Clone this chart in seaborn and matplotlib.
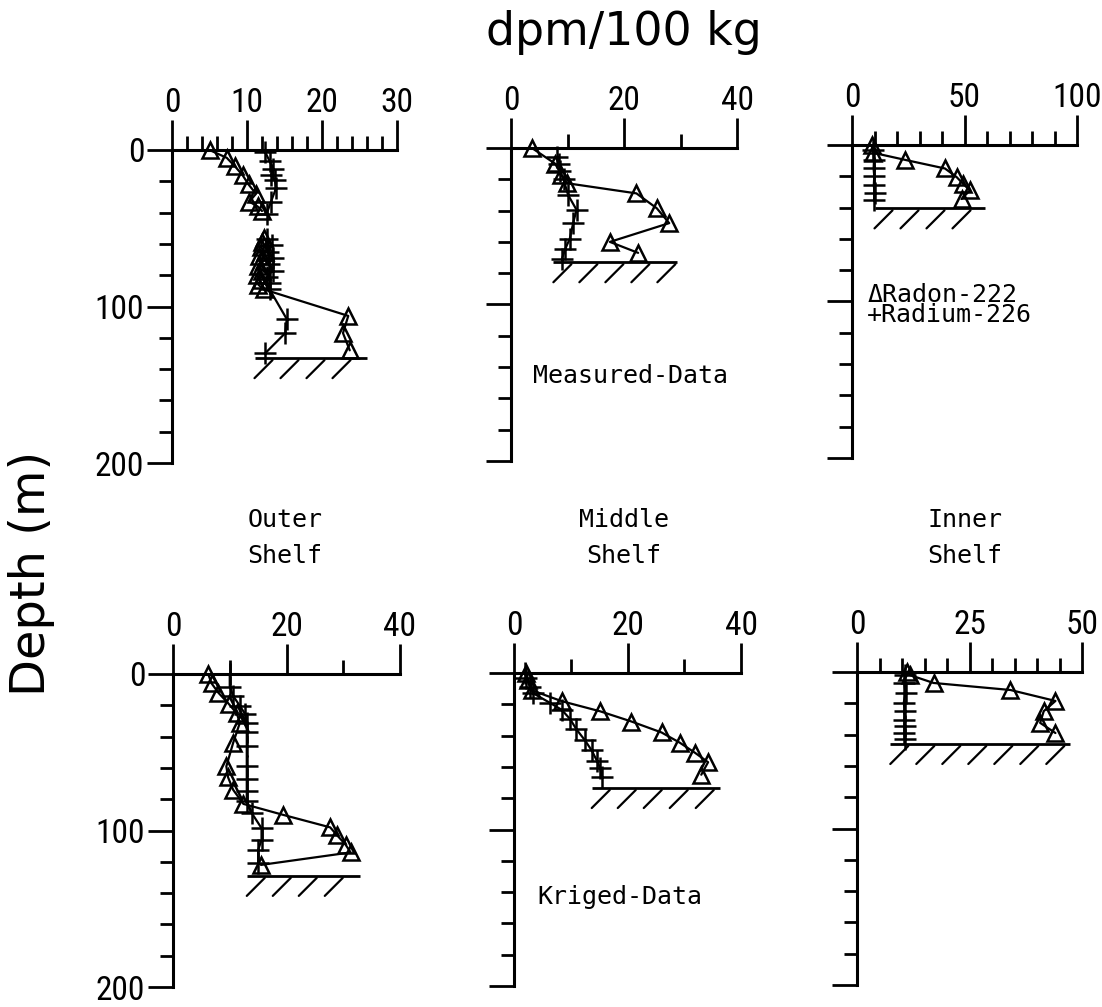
import matplotlib
matplotlib.use("Agg")
import matplotlib.pyplot as plt
import seaborn as sns
import pandas as pd
from matplotlib import font_manager
from matplotlib.font_manager import FontProperties
from matplotlib.ticker import MultipleLocator

# ---- measured data (top row) ----
# outer shelf: two profile pieces (seg 0 / seg 1), gap between ~40 and ~55 m
om_rn_x = [5.0, 7.3, 8.4, 9.4, 10.2, 11.2, 10.3, 11.4, 12.0,
           12.3, 12.0, 11.8, 12.4, 11.6, 12.2, 11.5, 12.0, 11.3, 11.8, 11.5, 12.2, 23.5, 22.8, 23.7]
om_rn_d = [0, 5, 10.5, 16, 22, 28, 33, 36, 39,
           56, 59, 62, 65, 68, 71, 74, 77, 80, 83, 86, 89, 106, 117, 128]
om_rn_seg = [0] * 9 + [1] * 15
om_ra_x = [12.4, 13.0, 13.5, 13.2, 13.7, 13.9, 13.2, 12.6,
           12.6, 13.3, 12.8, 13.5, 12.9, 13.4, 12.7, 13.1, 13.0, 15.3, 15.1, 12.4]
om_ra_d = [1, 7, 12, 16, 19, 24, 33, 41,
           57, 61, 65, 69, 73, 77, 81, 85, 89, 108, 117, 130]
om_ra_seg = [0] * 8 + [1] * 12
om_floor = (133, 11, 26)

mm_rn_x = [3.7, 7.8, 8.9, 9.9, 22.2, 25.8, 28.0, 17.5, 22.5]
mm_rn_d = [0, 10, 17, 22.5, 29, 38.5, 48, 60, 67]
mm_ra_x = [8.2, 8.5, 8.7, 9.3, 10.1, 11.6, 11.0, 10.4, 9.6, 9.0]
mm_ra_d = [6, 10, 15, 20, 30, 39.5, 48, 58, 64.5, 71]
mm_floor = (73, 7.5, 29.3)

im_rn_x = [8.7, 9.5, 23.6, 41.3, 46.5, 49.5, 52.4, 48.7]
im_rn_d = [0, 5, 9.5, 15, 20.5, 25, 29, 34.5]
im_ra_x = [9.5, 9.8, 9.6, 9.9, 9.7, 10.0, 9.8]
im_ra_d = [3, 9.5, 15, 20, 25.5, 30.5, 35]
im_floor = (40.5, 10, 59)

# ---- kriged data (bottom row) ----
ok_rn_x = [6.2, 6.8, 8.0, 9.8, 11.2, 11.8, 10.6, 9.4, 9.7, 10.6, 12.4, 19.4, 27.7, 28.9, 30.4, 31.3, 15.5]
ok_rn_d = [0, 6, 12, 19, 25, 31, 44, 59, 66, 74, 83, 90, 98, 103, 109, 114, 122]
ok_ra_x = [10.0, 10.0, 10.6, 11.8, 12.7, 13.0, 13.0, 13.0, 13.0, 13.0, 13.0, 13.0, 13.9, 15.6, 15.6, 15.0, 15.0]
ok_ra_d = [0, 8, 14, 20.5, 25.5, 31, 37, 46, 59, 67, 74.5, 81, 89, 98.5, 106, 112.5, 121]
ok_floor = (129, 13, 33)

mk_rn_x = [2.2, 2.5, 3.1, 8.4, 15.2, 20.7, 26.0, 29.2, 31.9, 34.2, 33.0]
mk_rn_d = [0, 4.5, 11, 18, 24.5, 31, 38, 44.5, 51, 57, 65]
mk_ra_x = [1.9, 2.2, 2.8, 3.4, 6.3, 8.4, 9.9, 11.0, 12.5, 13.7, 14.6, 15.2, 15.5]
mk_ra_d = [0, 3.5, 9, 13, 19, 23.5, 29.5, 36, 43, 49.5, 56, 61, 66.5]
mk_floor = (73.5, 13.7, 36.3)

ik_rn_x = [11.2, 11.8, 17.0, 34.1, 44.1, 41.5, 40.7, 44.1]
ik_rn_d = [0, 2, 7, 11.5, 18.5, 25, 32.5, 39]
ik_ra_x = [10.7, 10.5, 10.8, 10.4, 10.6, 10.5, 10.7, 10.5, 10.6]
ik_ra_d = [2, 7, 13.5, 19.5, 25, 30.5, 34.5, 39, 43]
ik_floor = (46, 7.4, 47.4)

shelf_names = ["Outer", "Middle", "Inner"]

sns.set_theme(style="ticks")
plt.rcParams["font.family"] = ["DejaVu Sans"]
for k in ["text.color", "axes.labelcolor", "xtick.color", "ytick.color"]:
    plt.rcParams[k] = "black"

# narrow face for the tick numbers, if there is one
fm = font_manager.fontManager.ttflist
tick_fp = None
for want in ["Liberation Sans Narrow", "DejaVu Sans Condensed", "Roboto Condensed", "Open Sans Condensed"]:
    hits = [f for f in fm if f.name == want and f.style == "normal" and f.weight in (400, "normal", "regular")]
    if hits:
        tick_fp = FontProperties(fname=hits[0].fname, size=24)
        break
if tick_fp is None:
    hits = [f for f in fm if f.stretch in ("condensed", "semi-condensed") and f.style == "normal"
            and f.weight in (400, "normal", "regular")]
    if hits:
        tick_fp = FontProperties(fname=hits[0].fname, size=24)
    else:
        tick_fp = FontProperties(family="Liberation Sans", size=21)
mono = "DejaVu Sans Mono"

W, H = 1102, 1007
fig = plt.figure(figsize=(W / 100, H / 100), dpi=100)

# pixel boxes: left, right, y of depth 0, y of depth 200
panels = [
    dict(box=(172, 397, 150, 463), xmax=30, major=[0, 10, 20, 30], minor=2,
         rn=(om_rn_x, om_rn_d, om_rn_seg), ra=(om_ra_x, om_ra_d, om_ra_seg), floor=om_floor, col=0),
    dict(box=(511, 737, 148, 461), xmax=40, major=[0, 20, 40], minor=10,
         rn=(mm_rn_x, mm_rn_d, None), ra=(mm_ra_x, mm_ra_d, None), floor=mm_floor, col=1),
    dict(box=(852, 1077, 145, 458), xmax=100, major=[0, 50, 100], minor=10,
         rn=(im_rn_x, im_rn_d, None), ra=(im_ra_x, im_ra_d, None), floor=im_floor, col=2),
    dict(box=(173, 400, 674, 987), xmax=40, major=[0, 20, 40], minor=10,
         rn=(ok_rn_x, ok_rn_d, None), ra=(ok_ra_x, ok_ra_d, None), floor=ok_floor, col=0),
    dict(box=(514, 741, 673, 986), xmax=40, major=[0, 20, 40], minor=10,
         rn=(mk_rn_x, mk_rn_d, None), ra=(mk_ra_x, mk_ra_d, None), floor=mk_floor, col=1),
    dict(box=(857, 1082, 672, 985), xmax=50, major=[0, 25, 50], minor=5,
         rn=(ik_rn_x, ik_rn_d, None), ra=(ik_ra_x, ik_ra_d, None), floor=ik_floor, col=2),
]

axes = []
for p in panels:
    l, r, t, b = p["box"]
    ax = fig.add_axes([l / W, 1 - b / H, (r - l) / W, (b - t) / H])
    ax.patch.set_alpha(0)
    for key, mk, ms in [("rn", "^", 11), ("ra", "+", 16)]:
        xs, ds, seg = p[key]
        df = pd.DataFrame({"x": xs, "d": ds, "seg": seg if seg is not None else [0] * len(xs)})
        sns.lineplot(data=df, x="x", y="d", units="seg", estimator=None, sort=False,
                     color="black", lw=1.6, marker=mk, markersize=ms,
                     markerfacecolor="none", markeredgecolor="black",
                     markeredgewidth=1.8, clip_on=False, ax=ax)

    # sea floor with hatching
    fd, fx0, fx1 = p["floor"]
    ax.hlines(fd, fx0, fx1, color="black", lw=2)
    px_x = p["xmax"] / (r - l)
    px_d = 200 / (b - t)
    xs = fx0 + 18 * px_x
    while xs <= fx1 + 2 * px_x:
        ax.plot([xs, xs - 18 * px_x], [fd + 2 * px_d, fd + 20 * px_d], color="black", lw=1.6)
        xs += 26 * px_x

    ax.set_xlim(0, p["xmax"])
    ax.set_ylim(200, 0)
    ax.set_xlabel("")
    ax.set_ylabel("")
    ax.xaxis.tick_top()
    ax.set_xticks(p["major"])
    ax.xaxis.set_minor_locator(MultipleLocator(p["minor"]))
    ax.set_yticks([0, 100, 200])
    ax.yaxis.set_minor_locator(MultipleLocator(20))
    for s in ["bottom", "right"]:
        ax.spines[s].set_visible(False)
    for s in ["top", "left"]:
        ax.spines[s].set_linewidth(2.2)
        ax.spines[s].set_color("black")
    ax.tick_params(axis="x", which="major", length=21.6, width=2, color="black",
                   top=True, bottom=False, labeltop=True, labelbottom=False, pad=1)
    ax.tick_params(axis="x", which="minor", length=10, width=2, color="black", top=True, bottom=False)
    ax.tick_params(axis="y", which="major", length=18, width=2, color="black",
                   left=True, right=False, labelleft=(p["col"] == 0), pad=2)
    ax.tick_params(axis="y", which="minor", length=9.5, width=2, color="black", left=True, right=False)
    for lab in ax.get_xticklabels() + ax.get_yticklabels():
        lab.set_fontproperties(tick_fp)
    axes.append(ax)

# texts
fig.text(624 / W, 1 - 45 / H, "dpm/100 kg", ha="center", va="baseline", fontsize=33)
fig.text(32 / W, 1 - 573 / H, "Depth (m)", rotation=90, ha="center", va="center", fontsize=34.5)
for name, cx in zip(shelf_names, [285, 624, 965]):
    fig.text(cx / W, 1 - 520 / H, name, ha="center", va="center", fontsize=18, family=mono)
    fig.text(cx / W, 1 - 556 / H, "Shelf", ha="center", va="center", fontsize=18, family=mono)

axes[1].text(3.9, 146, "Measured-Data", ha="left", va="center", fontsize=18, family=mono)
axes[4].text(4.05, 143, "Kriged-Data", ha="left", va="center", fontsize=18, family=mono)
axes[2].text(6.7, 102, "\u0394Radon-222\n+Radium-226", ha="left", va="center",
             fontsize=18, family=mono, linespacing=0.8)

fig.savefig("out.png", dpi=100, facecolor="white")
